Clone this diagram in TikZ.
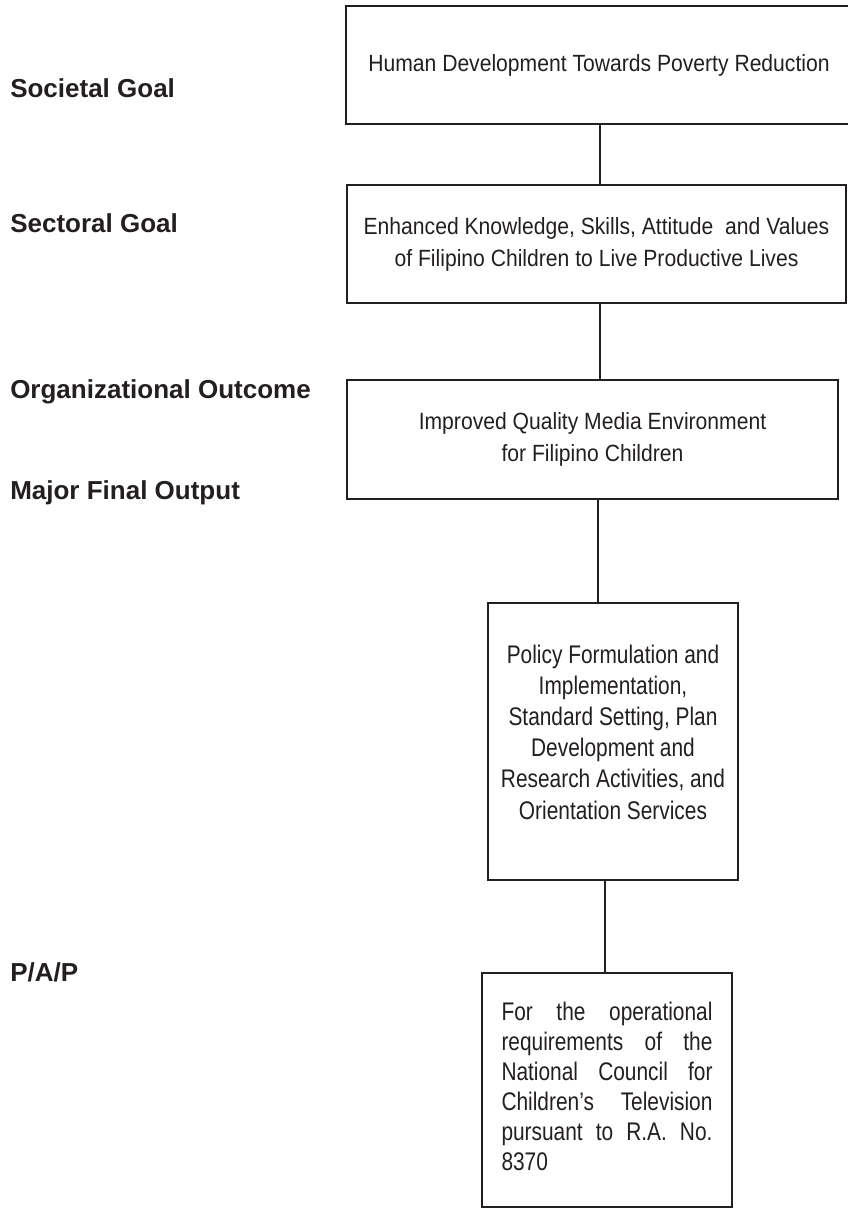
\documentclass[tikz,border=0pt]{standalone}
\usepackage{fontspec}
\setmainfont{Liberation Sans}
\newfontfamily\boxfont{Liberation Sans}[FakeStretch=0.9]
\newfontfamily\narrowfont{Liberation Sans}[FakeStretch=0.82]
\definecolor{ink}{HTML}{231F20}
\tikzset{
  boxstyle/.style={draw=ink, line width=1.6pt, rectangle, inner sep=0pt, text=ink, align=center},
  wide/.style={boxstyle, font=\boxfont\fontsize{17.6pt}{24pt}\selectfont},
  narrow/.style={boxstyle, font=\narrowfont\fontsize{19.1pt}{23.4pt}\selectfont},
  lbl/.style={anchor=west, inner sep=0pt, text=ink, font=\bfseries\fontsize{19.5pt}{22pt}\selectfont},
  link/.style={draw=ink, line width=1.6pt}
}
\begin{document}
\begin{tikzpicture}[x=0.75pt, y={(0pt,-0.75pt)}]
\useasboundingbox (0,0) rectangle (847,1215);
% level labels
\node[lbl] (l1) at (10,88) {Societal Goal};
\node[lbl] (l2) at (10,223) {Sectoral Goal};
\node[lbl] (l3) at (10,392) {Organizational Outcome};
\node[lbl] (l4) at (10,493) {Major Final Output};
\node[lbl] (l5) at (10,972) {P/A/P};
% boxes
\node[wide, minimum width=379.5pt, minimum height=88.5pt] (b1) at (599,65)
  {Human Development Towards Poverty Reduction};
\node[wide, minimum width=374.25pt, minimum height=88.5pt] (b2) at (596.5,244)
  {Enhanced Knowledge, Skills, Attitude\ \ and Values\\of Filipino Children to Live Productive Lives};
\node[wide, minimum width=368.25pt, minimum height=89.25pt] (b3) at (592.5,439.5)
  {Improved Quality Media Environment\\for Filipino Children};
\node[narrow, minimum width=187.5pt, minimum height=207.75pt] (b4) at (613,741.5)
  {Policy Formulation and\\Implementation,\\Standard Setting, Plan\\Development and\\Research Activities, and\\Orientation Services\rule[-14.5pt]{0pt}{14.5pt}};
\node[boxstyle, align=justify, text width=158.25pt, minimum width=187.5pt, minimum height=175.5pt,
      font=\narrowfont\fontsize{19.1pt}{22.5pt}\selectfont] (b5) at (607,1090)
  {For the operational\linebreak requirements of the\linebreak National Council for\linebreak Children’s Television\linebreak pursuant to R.A. No.\linebreak 8370\par\vspace*{6pt}};
% connectors
\draw[link] (b1.south -| 600,0) -- (b2.north -| 600,0);
\draw[link] (b2.south -| 600,0) -- (b3.north -| 600,0);
\draw[link] (b3.south -| 598,0) -- (b4.north -| 598,0);
\draw[link] (b4.south -| 605,0) -- (b5.north -| 605,0);
\end{tikzpicture}
\end{document}
